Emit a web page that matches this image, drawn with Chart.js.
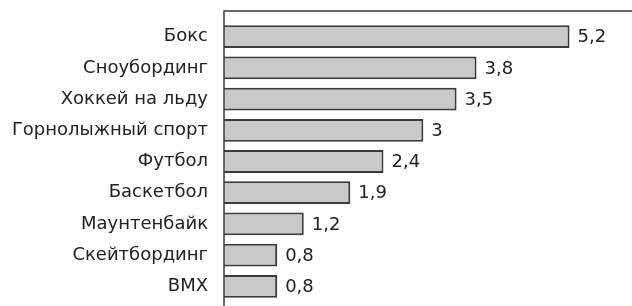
<!DOCTYPE html>
<html lang="ru">

<head>
  <meta charset="UTF-8">
  <title>Травмы по видам спорта</title>
  <script src="https://cdn.jsdelivr.net/npm/chart.js"></script>
  <style>
    body {
      margin: 0;
      background: #fff;
    }

    #chart-container {
      width: 632px;
      height: 306px;
    }
  </style>
</head>

<body>
  <div id="chart-container">
    <canvas id="sportChart"></canvas>
  </div>

  <script>
    const sports = ["Бокс", "Сноубординг", "Хоккей на льду", "Горнолыжный спорт", "Футбол",
      "Баскетбол", "Маунтенбайк", "Скейтбординг", "BMX"];
    const values = [5.2, 3.8, 3.5, 3, 2.4, 1.9, 1.2, 0.8, 0.8];

    const lineColor = '#3a3a3a';
    const textColor = '#222';
    const fontFamily = '"DejaVu Sans", sans-serif';
    const fontSize = 18;

    // рамка: верхняя линия и левая ось до низа картинки
    const framePlugin = {
      id: 'frame',
      afterDatasetsDraw(chart) {
        const { ctx, chartArea } = chart;
        const topY = chartArea.top - 10;
        ctx.save();
        ctx.strokeStyle = lineColor;
        ctx.lineWidth = 1.5;
        ctx.beginPath();
        ctx.moveTo(chartArea.left, chart.height);
        ctx.lineTo(chartArea.left, topY);
        ctx.lineTo(chart.width, topY);
        ctx.stroke();
        ctx.restore();
      }
    };

    // подписи значений справа от столбцов (с запятой)
    const valueLabels = {
      id: 'valueLabels',
      afterDatasetsDraw(chart) {
        const { ctx } = chart;
        const meta = chart.getDatasetMeta(0);
        ctx.save();
        ctx.fillStyle = textColor;
        ctx.font = fontSize + 'px ' + fontFamily;
        ctx.textAlign = 'left';
        ctx.textBaseline = 'middle';
        meta.data.forEach((bar, i) => {
          const txt = String(values[i]).replace('.', ',');
          ctx.fillText(txt, bar.x + 8, bar.y + 1);
        });
        ctx.restore();
      }
    };

    const ctx = document.getElementById('sportChart').getContext('2d');
    new Chart(ctx, {
      type: 'bar',
      data: {
        labels: sports,
        datasets: [{
          data: values,
          backgroundColor: '#c8c9cb',
          borderColor: lineColor,
          borderWidth: 2,
          borderSkipped: 'start',
          categoryPercentage: 1,
          barPercentage: 0.73
        }]
      },
      options: {
        indexAxis: 'y',
        responsive: true,
        maintainAspectRatio: false,
        animation: false,
        layout: {
          padding: { top: 21, bottom: 4, right: 0, left: 0 }
        },
        plugins: {
          legend: { display: false },
          tooltip: { enabled: false }
        },
        scales: {
          x: {
            display: false,
            min: 0,
            max: 6.14
          },
          y: {
            grid: { display: false, drawTicks: false },
            border: { display: false },
            afterFit(scale) {
              scale.width = 224;
              scale.paddingTop = 0;
              scale.paddingBottom = 0;
            },
            ticks: {
              color: textColor,
              padding: 16,
              font: { family: fontFamily, size: fontSize }
            }
          }
        }
      },
      plugins: [framePlugin, valueLabels]
    });
  </script>
</body>

</html>
